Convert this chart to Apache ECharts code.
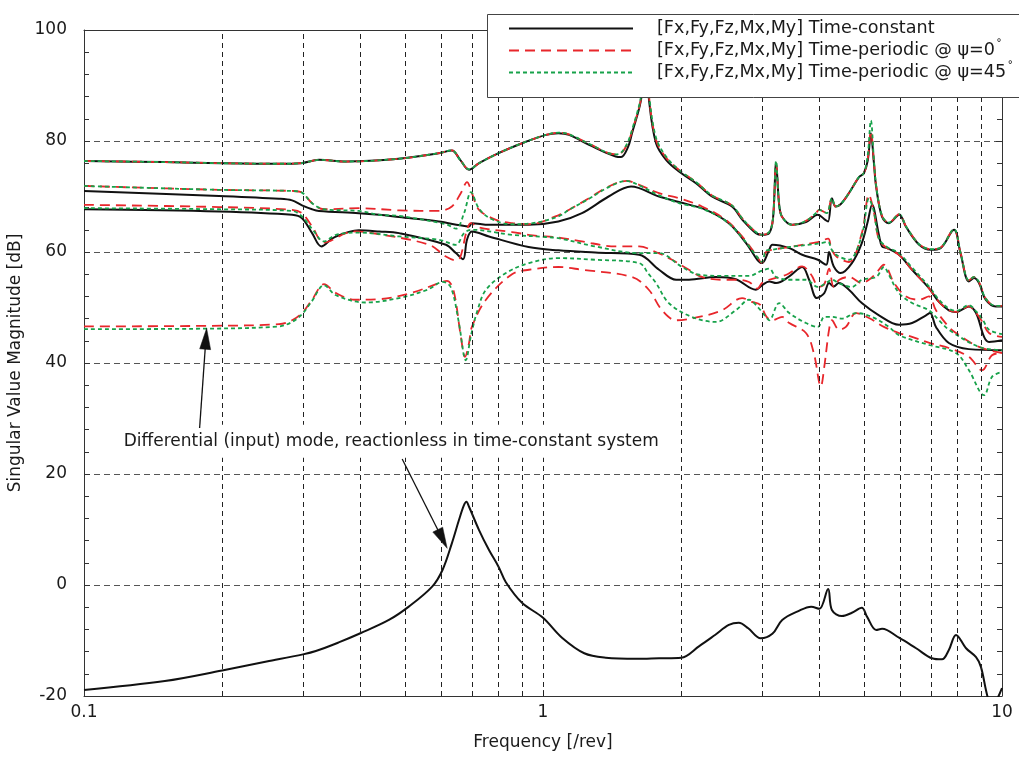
<!DOCTYPE html>
<html>
<head>
<meta charset="utf-8">
<script src="https://cdn.jsdelivr.net/npm/echarts/dist/echarts.min.js"></script>
<style>
  html, body { margin: 0; padding: 0; background: #ffffff; }
  #chart { width: 1019px; height: 762px; }
</style>
</head>
<body>
<div id="chart"></div>
<script>
// Singular values [dB] versus frequency [/rev], stored as [frequency, magnitude] pairs.

// Time-constant system (solid black)
const constA = [[0.1,76.4],[0.15,76.2],[0.2,76.0],[0.266,75.9],[0.297,76.0],[0.325,76.6],[0.372,76.3],[0.485,76.8],[0.593,77.8],[0.633,78.3],[0.66,76.6],[0.69,74.8],[0.7255,76.0],[0.80,77.8],[0.90,79.6],[1.015,81.1],[1.08,81.4],[1.14,81.1],[1.26,79.3],[1.44,77.2],[1.48,77.1],[1.53,78.8],[1.563,81.4],[1.635,87.4],[1.677,96],[1.702,87.4],[1.763,79.6],[1.854,76.6],[1.978,74.5],[2.154,72.4],[2.334,70.0],[2.58,68.2],[2.72,65.8],[2.91,63.4],[3.0,63.1],[3.11,63.4],[3.17,66.0],[3.22,76.0],[3.27,68.5],[3.32,66.3],[3.49,64.9],[3.74,65.4],[3.97,66.7],[4.12,65.8],[4.18,65.5],[4.26,69.7],[4.34,68.2],[4.45,68.6],[4.64,70.6],[4.88,73.5],[5.0,74.2],[5.1,76.5],[5.18,81.4],[5.26,76.0],[5.32,71.7],[5.48,66.3],[5.67,65.2],[5.97,66.7],[6.18,64.5],[6.6,61.3],[7.0,60.4],[7.35,60.7],[7.86,64.0],[8.12,59.8],[8.47,54.7],[8.69,55.3],[8.91,54.4],[9.215,51.4],[9.69,50.2],[10,50.2]];
const constB = [[0.1,71.0],[0.197,70.1],[0.266,69.6],[0.284,69.3],[0.2985,68.4],[0.314,67.7],[0.325,67.4],[0.397,67.0],[0.44,66.7],[0.486,66.3],[0.593,65.5],[0.66,64.8],[0.69,64.6],[0.70,65.2],[0.763,64.9],[0.93,64.9],[1.08,65.5],[1.216,67.0],[1.39,70.0],[1.555,71.8],[1.79,70.0],[1.978,69.0],[2.265,67.6],[2.54,65.2],[2.77,61.6],[2.93,58.6],[3.0,58.0],[3.11,60.4],[3.16,61.3],[3.44,60.7],[3.67,59.5],[3.97,58.6],[4.14,57.7],[4.2,60.0],[4.3,57.4],[4.45,56.2],[4.71,58.0],[4.95,61.6],[5.1,65.5],[5.21,68.5],[5.395,63.0],[5.48,61.0],[5.62,60.7],[5.965,59.5],[6.37,56.8],[6.93,53.5],[7.29,51.0],[7.66,49.5],[7.94,49.2],[8.47,50.2],[8.78,49.0],[9.14,44.7],[9.37,43.8],[10,44.1]];
const constC = [[0.1,67.7],[0.197,67.3],[0.284,66.7],[0.2985,66.1],[0.314,63.4],[0.329,61.0],[0.35,62.6],[0.397,63.9],[0.44,63.7],[0.486,63.4],[0.6146,61.3],[0.646,59.8],[0.6695,58.7],[0.683,62.2],[0.70,63.7],[0.7627,62.8],[0.93,60.9],[1.08,60.3],[1.3,59.9],[1.62,59.5],[1.79,56.8],[1.95,55.0],[2.08,55.0],[2.38,55.5],[2.63,55.1],[2.91,53.2],[3.0,54.0],[3.11,54.7],[3.22,54.4],[3.44,55.6],[3.67,57.3],[3.80,55.0],[3.95,51.7],[4.1,52.6],[4.2,54.4],[4.3,53.8],[4.41,54.4],[4.64,53.2],[4.95,50.8],[5.395,48.6],[5.965,46.9],[6.37,47.2],[6.83,48.6],[6.97,49.0],[7.18,46.5],[7.66,43.6],[8.47,42.5],[10,42.3]];
const constDiff = [[0.1,-18.9],[0.15,-17.3],[0.2,-15.4],[0.25,-13.8],[0.3,-12.5],[0.32,-11.9],[0.36,-10.3],[0.4,-8.7],[0.4616,-6.3],[0.51,-3.9],[0.5735,-0.3],[0.604,2.7],[0.633,7.5],[0.656,11.7],[0.672,14.3],[0.681,15.0],[0.69,14.1],[0.7255,9.9],[0.7627,6.3],[0.80,3.3],[0.83,0.5],[0.9,-3.2],[1.0,-5.9],[1.1,-9.5],[1.23,-12.3],[1.37,-13.1],[1.6,-13.3],[1.79,-13.2],[2.0,-13.1],[2.19,-11.0],[2.37,-9.0],[2.54,-7.2],[2.67,-6.8],[2.8,-7.8],[2.98,-9.6],[3.16,-8.8],[3.32,-6.3],[3.60,-4.7],[3.84,-3.9],[4.0,-4.3],[4.18,-0.7],[4.26,-4.5],[4.48,-5.6],[4.71,-5.0],[4.95,-4.1],[5.08,-5.7],[5.32,-8.1],[5.48,-7.9],[5.965,-9.5],[6.5,-11.4],[7.04,-13.2],[7.4,-13.4],[7.66,-11.7],[7.94,-9.0],[8.35,-11.4],[8.78,-13.0],[9.0,-14.8],[9.28,-19.8],[9.5,-22.0],[9.75,-20.6],[10,-18.6]];

// Time-periodic system, psi = 0 deg (dashed red)
const psi0A = [[0.1,76.4],[0.15,76.2],[0.2,76.0],[0.266,75.9],[0.297,76.0],[0.325,76.6],[0.372,76.3],[0.485,76.8],[0.593,77.8],[0.633,78.3],[0.66,76.6],[0.69,74.9],[0.7255,76.0],[0.80,77.8],[0.90,79.6],[1.015,81.1],[1.08,81.5],[1.14,81.2],[1.26,79.5],[1.44,77.6],[1.48,77.8],[1.53,79.6],[1.563,81.8],[1.635,87.6],[1.677,96],[1.702,88.0],[1.763,80.2],[1.854,77.0],[1.978,74.8],[2.154,72.6],[2.334,70.2],[2.58,68.4],[2.72,66.0],[2.91,63.6],[3.0,63.1],[3.11,63.6],[3.17,66.0],[3.22,76.0],[3.27,68.5],[3.32,66.3],[3.49,64.9],[3.74,65.6],[3.93,67.0],[4.0,67.6],[4.15,67.0],[4.26,69.7],[4.34,68.2],[4.45,68.6],[4.64,70.6],[4.88,73.5],[5.0,74.2],[5.1,76.8],[5.18,81.8],[5.26,76.2],[5.32,71.9],[5.48,66.5],[5.67,65.3],[5.97,66.8],[6.18,64.6],[6.6,61.4],[7.0,60.5],[7.35,60.8],[7.86,64.1],[8.12,59.9],[8.47,54.9],[8.69,55.5],[8.91,54.6],[9.215,51.6],[9.69,50.3],[10,50.3]];
const psi0B = [[0.1,71.9],[0.197,71.2],[0.284,71.0],[0.2985,70.7],[0.314,68.8],[0.333,67.7],[0.397,67.9],[0.486,67.5],[0.593,67.4],[0.633,68.2],[0.662,70.6],[0.683,72.6],[0.70,70.6],[0.7255,67.6],[0.79,65.8],[0.856,65.2],[0.932,65.0],[1.08,66.6],[1.14,67.6],[1.26,69.7],[1.39,71.8],[1.52,72.8],[1.62,72.1],[1.79,70.6],[1.978,69.7],[2.22,68.2],[2.50,65.8],[2.715,62.8],[2.91,59.5],[3.0,58.0],[3.06,60.0],[3.156,60.4],[3.44,60.9],[3.97,61.8],[4.18,62.4],[4.25,60.5],[4.37,59.1],[4.64,58.2],[4.95,63.4],[5.13,70.3],[5.25,67.5],[5.395,62.2],[5.617,60.7],[5.965,59.5],[6.367,56.8],[6.93,53.5],[7.29,51.0],[7.66,49.5],[7.94,49.2],[8.47,50.2],[8.78,49.0],[9.05,47.5],[9.37,45.4],[10,44.7]];
const psi0C = [[0.1,68.5],[0.197,68.1],[0.284,67.6],[0.2985,67.0],[0.314,64.6],[0.3333,61.7],[0.372,63.4],[0.39,63.7],[0.44,63.2],[0.5645,61.3],[0.6146,59.2],[0.646,58.5],[0.66,59.0],[0.683,64.0],[0.6968,65.2],[0.7255,64.4],[0.856,63.6],[0.95,63.0],[1.08,62.6],[1.216,61.9],[1.44,61.0],[1.62,61.0],[1.76,60.0],[1.91,58.6],[2.08,56.8],[2.22,55.5],[2.45,55.0],[2.63,55.0],[2.81,54.6],[2.93,53.4],[3.0,54.4],[3.11,55.0],[3.39,55.9],[3.67,57.4],[3.84,55.9],[3.99,53.7],[4.10,54.2],[4.2,57.0],[4.3,53.7],[4.42,55.0],[4.64,55.5],[4.95,54.4],[5.13,55.0],[5.32,56.2],[5.53,57.7],[5.82,54.4],[6.18,52.0],[6.6,51.4],[6.93,52.0],[7.18,49.5],[7.66,46.5],[7.94,45.4],[8.91,42.9],[10,41.8]];
const psi0D = [[0.1,46.6],[0.19,46.7],[0.266,47.0],[0.284,47.7],[0.2985,49.0],[0.314,51.4],[0.3333,54.2],[0.354,52.6],[0.39,51.4],[0.44,51.5],[0.52,52.7],[0.593,54.4],[0.6176,54.8],[0.638,53.2],[0.6624,44.7],[0.6763,41.1],[0.69,43.6],[0.70,46.5],[0.7512,51.4],[0.856,56.0],[0.932,56.8],[1.08,57.3],[1.216,56.8],[1.563,55.5],[1.70,53.2],[1.817,49.5],[1.949,47.7],[2.187,48.3],[2.455,49.5],[2.715,51.7],[2.85,51.0],[2.97,50.5],[3.07,48.3],[3.16,47.7],[3.32,48.3],[3.44,47.2],[3.74,45.4],[3.89,41.8],[4.03,35.8],[4.1,39.3],[4.2,46.0],[4.26,47.7],[4.415,46.0],[4.57,46.5],[4.81,49.0],[5.13,48.1],[5.53,46.5],[5.965,45.4],[6.367,44.7],[6.97,43.6],[7.66,42.7],[8.47,41.1],[9.05,38.7],[9.51,41.4],[10,41.8]];

// Time-periodic system, psi = 45 deg (dotted green)
const psi45A = [[0.1,76.4],[0.15,76.2],[0.2,76.0],[0.266,75.9],[0.297,76.0],[0.325,76.6],[0.372,76.3],[0.485,76.8],[0.593,77.8],[0.633,78.3],[0.66,76.6],[0.69,74.9],[0.7255,76.0],[0.80,77.8],[0.90,79.6],[1.015,81.1],[1.08,81.5],[1.14,81.2],[1.26,79.5],[1.44,77.6],[1.48,77.9],[1.53,79.8],[1.563,82.0],[1.635,88.0],[1.677,96],[1.702,88.4],[1.763,80.6],[1.854,77.2],[1.978,74.8],[2.154,72.6],[2.334,70.2],[2.58,68.4],[2.72,66.0],[2.91,63.6],[3.0,63.1],[3.11,63.6],[3.17,66.0],[3.22,76.4],[3.27,68.5],[3.32,66.3],[3.49,64.9],[3.74,65.6],[3.93,67.0],[4.0,67.6],[4.15,67.0],[4.26,69.7],[4.34,68.2],[4.45,68.6],[4.64,70.6],[4.88,73.5],[5.0,74.2],[5.1,77.5],[5.18,83.7],[5.26,76.6],[5.32,71.9],[5.48,66.5],[5.67,65.3],[5.97,66.8],[6.18,64.6],[6.6,61.4],[7.0,60.5],[7.35,60.8],[7.86,64.1],[8.12,59.9],[8.47,54.9],[8.69,55.5],[8.91,54.6],[9.215,51.6],[9.69,50.3],[10,50.3]];
const psi45B = [[0.1,71.9],[0.197,71.2],[0.284,71.0],[0.2985,70.7],[0.314,68.8],[0.333,67.7],[0.397,67.4],[0.44,66.7],[0.486,66.5],[0.6146,65.0],[0.6463,64.2],[0.673,67.0],[0.697,70.8],[0.7255,67.8],[0.77,66.0],[0.856,65.0],[0.95,65.2],[1.08,66.4],[1.14,67.6],[1.26,69.6],[1.39,71.7],[1.52,72.8],[1.62,72.0],[1.79,70.2],[1.978,68.8],[2.22,67.8],[2.50,65.6],[2.715,62.6],[2.91,59.4],[3.0,58.2],[3.06,60.2],[3.156,60.4],[3.44,60.9],[3.97,61.5],[4.18,61.8],[4.25,60.5],[4.37,59.4],[4.64,58.6],[4.95,63.0],[5.13,69.6],[5.25,67.5],[5.395,62.4],[5.617,60.9],[5.965,59.8],[6.367,57.2],[6.93,53.8],[7.29,51.4],[7.66,49.8],[7.94,49.4],[8.47,50.4],[8.78,49.3],[9.05,48.0],[9.37,46.0],[10,45.2]];
const psi45C = [[0.1,67.9],[0.197,67.7],[0.284,67.4],[0.2985,66.4],[0.317,63.7],[0.333,61.9],[0.354,63.1],[0.397,63.5],[0.486,62.8],[0.5934,62.2],[0.646,61.3],[0.673,63.4],[0.70,64.0],[0.856,63.1],[1.015,62.7],[1.08,62.5],[1.3,61.0],[1.62,59.8],[1.79,59.8],[2.0,57.4],[2.19,55.9],[2.45,55.7],[2.81,55.7],[2.99,56.6],[3.11,57.0],[3.22,55.5],[3.44,55.0],[3.74,55.0],[3.97,53.7],[4.14,54.4],[4.26,55.0],[4.41,54.4],[4.71,53.7],[4.95,55.0],[5.32,55.5],[5.53,57.3],[5.67,55.9],[5.965,52.6],[6.37,50.8],[6.93,49.5],[7.29,47.7],[7.66,46.0],[8.91,42.9],[10,42.3]];
const psi45D = [[0.1,46.1],[0.19,46.2],[0.266,46.6],[0.284,47.4],[0.2985,48.8],[0.314,51.2],[0.3333,54.0],[0.354,52.2],[0.41,50.9],[0.486,51.7],[0.56,53.2],[0.605,54.6],[0.63,53.6],[0.655,47.5],[0.679,40.5],[0.697,45.0],[0.72,49.5],[0.7512,53.2],[0.83,56.2],[0.932,58.0],[1.08,58.9],[1.3,58.6],[1.62,58.0],[1.70,56.0],[1.763,54.4],[1.88,50.8],[2.11,48.3],[2.38,47.4],[2.63,49.5],[2.81,51.4],[2.95,49.9],[3.06,48.3],[3.11,47.7],[3.27,50.8],[3.44,49.0],[3.74,47.2],[3.97,46.5],[4.1,48.3],[4.26,48.3],[4.48,48.0],[4.81,49.0],[5.21,48.3],[5.67,46.5],[5.965,45.0],[6.97,43.2],[7.94,41.8],[8.47,38.7],[9.14,34.2],[9.51,37.5],[10,38.4]];

// Axis ticks and decade grid
const xTickLabels = ['0.1', '1', '10'];
const gridFreqs = [0.2, 0.3, 0.4, 0.5, 0.6, 0.7, 0.8, 0.9, 1, 2, 3, 4, 5, 6, 7, 8, 9];
const yTicks = [-20, 0, 20, 40, 60, 80, 100];

const legendLabels = [
  '[Fx,Fy,Fz,Mx,My] Time-constant',
  '[Fx,Fy,Fz,Mx,My] Time-periodic @ \u03c8=0',
  '[Fx,Fy,Fz,Mx,My] Time-periodic @ \u03c8=45'
];
const noteText = 'Differential (input) mode, reactionless in time-constant system';
const noteAnchor = [0.1196, 25.9];           // left edge / middle of the note box
const arrowTime = { from: [0.1786, 28.3], to: [0.1850, 46.25] };
const arrowConst = { from: [0.4934, 22.7], to: [0.6184, 6.6] };

const FONT = '"DejaVu Sans", Verdana, sans-serif';
const FS = 17;
const FS_LEGEND = 17.6;
const TXT = '#1a1a1a';
const BLACK = '#111111';
const RED = '#e8262b';
const GREEN = '#17a24a';

const chart = echarts.init(document.getElementById('chart'), null, { renderer: 'canvas' });

function curve(name, data, color, width, dash) {
  return {
    type: 'line', name: name, data: data,
    xAxisIndex: 0, yAxisIndex: 0,
    symbol: 'none', showSymbol: false, silent: true,
    smooth: 0.35, clip: true, z: 3,
    lineStyle: { color: color, width: width, type: dash, join: 'round' }
  };
}

const series = [
  {
    // dashed log-decade grid lines
    type: 'line', data: [], xAxisIndex: 0, yAxisIndex: 0, silent: true, z: 1,
    markLine: {
      silent: true, symbol: ['none', 'none'], animation: false,
      label: { show: false },
      lineStyle: { color: '#222', width: 1, type: [5, 4] },
      data: gridFreqs.map(f => ({ xAxis: f }))
    }
  },
  curve('const', constA, BLACK, 2, 'solid'),
  curve('const', constB, BLACK, 2, 'solid'),
  curve('const', constC, BLACK, 2, 'solid'),
  curve('const', constDiff, BLACK, 2, 'solid'),
  curve('psi0', psi0A, RED, 1.8, [10, 6]),
  curve('psi0', psi0B, RED, 1.8, [10, 6]),
  curve('psi0', psi0C, RED, 1.8, [10, 6]),
  curve('psi0', psi0D, RED, 1.8, [10, 6]),
  curve('psi45', psi45A, GREEN, 1.8, [4, 3]),
  curve('psi45', psi45B, GREEN, 1.8, [4, 3]),
  curve('psi45', psi45C, GREEN, 1.8, [4, 3]),
  curve('psi45', psi45D, GREEN, 1.8, [4, 3])
];

const axisLineStyle = { color: '#333', width: 1 };

chart.setOption({
  animation: false,
  backgroundColor: '#ffffff',
  grid: { left: 84, right: 17, top: 30, bottom: 66, containLabel: false, outerBoundsMode: 'none' },
  xAxis: [
    {
      type: 'log', logBase: 10, min: 0.1, max: 10, position: 'bottom',
      name: 'Frequency [/rev]', nameLocation: 'middle', nameGap: 38,
      nameTextStyle: { fontFamily: FONT, fontSize: FS, color: TXT },
      axisLine: { show: true, onZero: false, lineStyle: axisLineStyle },
      axisTick: { show: true, inside: true, length: 6, lineStyle: axisLineStyle },
      axisLabel: {
        fontFamily: FONT, fontSize: FS, color: TXT, margin: 8,
        formatter: v => xTickLabels[Math.round(Math.log10(v)) + 1]
      },
      splitLine: { show: false }
    },
    {
      type: 'log', logBase: 10, min: 0.1, max: 10, position: 'top',
      axisLine: { show: true, onZero: false, lineStyle: axisLineStyle },
      axisTick: { show: true, inside: true, length: 6, lineStyle: axisLineStyle },
      axisLabel: { show: false }, splitLine: { show: false }
    }
  ],
  yAxis: [
    {
      type: 'value', min: yTicks[0], max: yTicks[yTicks.length - 1], interval: 20, position: 'left',
      name: 'Singular Value Magnitude [dB]', nameLocation: 'middle', nameGap: 56,
      nameTextStyle: { fontFamily: FONT, fontSize: FS, color: TXT },
      axisLine: { show: true, onZero: false, lineStyle: axisLineStyle },
      axisTick: { show: true, inside: true, length: 6, lineStyle: axisLineStyle },
      minorTick: { show: true, splitNumber: 5, length: 5, lineStyle: axisLineStyle },
      axisLabel: { fontFamily: FONT, fontSize: FS, color: TXT, margin: 17 },
      splitLine: { show: true, lineStyle: { color: '#555', width: 1, type: [6, 4] } }
    },
    {
      type: 'value', min: yTicks[0], max: yTicks[yTicks.length - 1], interval: 20, position: 'right',
      axisLine: { show: true, onZero: false, lineStyle: axisLineStyle },
      axisTick: { show: true, inside: true, length: 6, lineStyle: axisLineStyle },
      minorTick: { show: true, splitNumber: 5, length: 5, lineStyle: axisLineStyle },
      axisLabel: { show: false }, splitLine: { show: false }
    }
  ],
  series: series
});

// Annotation note, arrows and legend box are laid out from axis coordinates.
function px(p) { return chart.convertToPixel({ gridIndex: 0 }, p); }

function arrowGraphics(a) {
  const t = px(a.from), h = px(a.to);
  const dx = h[0] - t[0], dy = h[1] - t[1];
  const len = Math.sqrt(dx * dx + dy * dy);
  const ux = dx / len, uy = dy / len, nx = -uy, ny = ux;
  const L = 21, W = 5.5;
  const bx = h[0] - L * ux, by = h[1] - L * uy;
  return [
    { type: 'line', z: 50, silent: true,
      shape: { x1: t[0], y1: t[1], x2: bx + 4 * ux, y2: by + 4 * uy },
      style: { stroke: '#111', lineWidth: 1.3 } },
    { type: 'polygon', z: 50, silent: true,
      shape: { points: [[h[0], h[1]], [bx + W * nx, by + W * ny], [bx - W * nx, by - W * ny]] },
      style: { fill: '#111', stroke: '#111', lineWidth: 0.5 } }
  ];
}

const notePos = px(noteAnchor);
const graphics = [
  { type: 'text', z: 40, silent: true, x: notePos[0], y: notePos[1],
    style: { text: noteText, font: FS + 'px ' + FONT, fill: TXT,
             verticalAlign: 'middle', align: 'left',
             backgroundColor: '#ffffff', padding: [8, 4, 8, 4] } }
].concat(arrowGraphics(arrowTime), arrowGraphics(arrowConst));

// legend box
const lgX = 487, lgY = 14, lgRows = [28.5, 50.5, 72.5];
const lgStyles = [
  { stroke: BLACK, lineWidth: 2, lineDash: null },
  { stroke: RED, lineWidth: 1.8, lineDash: [10, 6] },
  { stroke: GREEN, lineWidth: 1.8, lineDash: [4, 3] }
];
graphics.push({ type: 'rect', z: 60, silent: true,
  shape: { x: lgX + 0.5, y: lgY + 0.5, width: 600, height: 83 },
  style: { fill: '#ffffff', stroke: '#444', lineWidth: 1 } });
lgRows.forEach((y, i) => {
  graphics.push({ type: 'line', z: 61, silent: true,
    shape: { x1: lgX + 22, y1: y, x2: lgX + 146, y2: y },
    style: lgStyles[i] });
  graphics.push({ type: 'text', z: 61, silent: true, x: lgX + 170, y: y,
    style: {
      text: i === 0 ? legendLabels[i] : legendLabels[i] + '{deg|\u02da}',
      font: FS_LEGEND + 'px ' + FONT, fill: TXT, verticalAlign: 'middle', align: 'left',
      rich: { deg: { font: '12px ' + FONT, fill: TXT, padding: [0, 0, 8, 1] } }
    } });
});

chart.setOption({ graphic: graphics });
</script>
</body>
</html>
